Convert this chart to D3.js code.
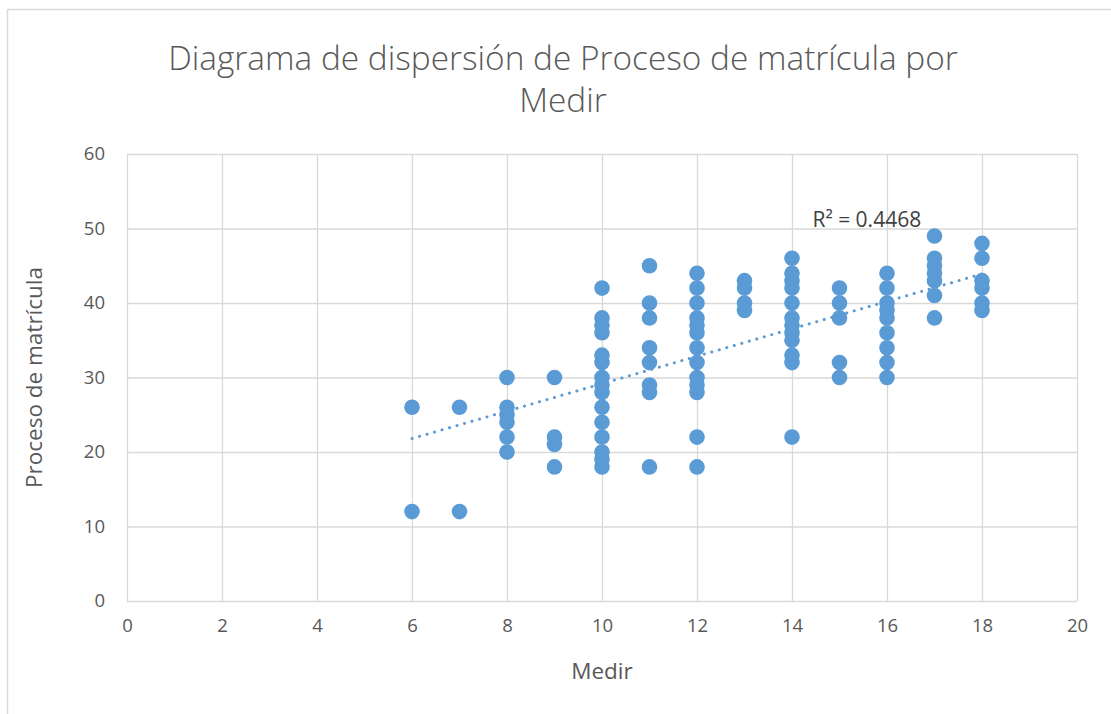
<!DOCTYPE html>
<html>
<head>
<meta charset="utf-8">
<script src="https://cdn.jsdelivr.net/npm/d3@7"></script>
<style>
  body { margin: 0; background: #fff; }
  svg { display: block; font-family: "Open Sans", sans-serif; }
  .axis text { fill: #595959; font-size: 18.5px; font-family: "Open Sans", sans-serif; }
  .axis line, .axis path { stroke: #d9d9d9; stroke-width: 1.3; }
</style>
</head>
<body>
<svg width="1111" height="714"></svg>
<script>
// Medir (x) -> Proceso de matrícula (y), one list of y values per x column
const medirValues = [6, 7, 8, 9, 10, 11, 12, 13, 14, 15, 16, 17, 18];
const procesoValues = [
  [26, 12],
  [26, 12],
  [30, 26, 25, 24, 22, 20],
  [30, 22, 21, 18],
  [42, 38, 37, 36, 33, 32, 30, 29, 28, 26, 24, 22, 20, 19, 18],
  [45, 40, 38, 34, 32, 29, 28, 18],
  [44, 42, 40, 38, 37, 36, 34, 32, 30, 29, 28, 22, 18],
  [43, 42, 40, 39],
  [46, 44, 43, 42, 40, 38, 37, 36, 35, 33, 32, 22],
  [42, 40, 38, 32, 30],
  [44, 42, 40, 39, 38, 36, 34, 32, 30],
  [49, 46, 45, 44, 43, 41, 38],
  [48, 46, 43, 42, 40, 39]
];
const xTicks = [0, 2, 4, 6, 8, 10, 12, 14, 16, 18, 20];
const yTicks = [0, 10, 20, 30, 40, 50, 60];
// linear trendline as Excel drew it (endpoints)
const trendX = [6, 18];
const trendY = [21.8, 43.9];
const rSquaredLabel = "R² = 0.4468";

const points = medirValues.flatMap((m, i) => procesoValues[i].map(p => ({x: m, y: p})));

let svg = d3.select("svg");
const margin = {left: 127, top: 154, right: 34, bottom: 113};
const width = 1111 - margin.left - margin.right,
      height = 714 - margin.top - margin.bottom;

// outer chart border
svg.append("rect")
  .attr("x", 7.5).attr("y", 9.5)
  .attr("width", 1120).attr("height", 720)
  .attr("fill", "none").attr("stroke", "#d9d9d9").attr("stroke-width", 1.5);

let x = d3.scaleLinear().domain([0, 20]).range([0, width]);
let y = d3.scaleLinear().domain([0, 60]).range([height, 0]);

let g = svg.append("g").attr("transform", `translate(${margin.left},${margin.top})`);

g.append("g")
  .attr("class", "axis axis--x")
  .attr("transform", `translate(0,${height})`)
  .call(d3.axisBottom(x).tickValues(xTicks).tickSize(-height).tickPadding(18))
  .call(s => s.select(".domain").remove());

g.append("g")
  .attr("class", "axis axis--y")
  .call(d3.axisLeft(y).tickValues(yTicks).tickSize(-width).tickPadding(22))
  .call(s => s.select(".domain").remove());

g.selectAll(".dot")
  .data(points)
  .enter().append("circle")
  .attr("class", "dot")
  .attr("cx", d => x(d.x))
  .attr("cy", d => y(d.y))
  .attr("r", 7.8)
  .attr("fill", "#5b9bd5");

g.append("line")
  .attr("x1", x(trendX[0])).attr("y1", y(trendY[0]))
  .attr("x2", x(trendX[1])).attr("y2", y(trendY[1]))
  .attr("stroke", "#5b9bd5")
  .attr("stroke-width", 3)
  .attr("stroke-linecap", "round")
  .attr("stroke-dasharray", "0.1 7.7");

g.append("text")
  .attr("x", x(14.43)).attr("y", y(50.2))
  .attr("fill", "#404040")
  .attr("font-size", 21)
  .text(rSquaredLabel);

// titles
svg.append("text")
  .attr("x", 563).attr("y", 70)
  .attr("text-anchor", "middle")
  .attr("fill", "#595959")
  .attr("font-size", 33.4)
  .attr("font-weight", 300)
  .text("Diagrama de dispersión de Proceso de matrícula por");
svg.append("text")
  .attr("x", 563).attr("y", 112)
  .attr("text-anchor", "middle")
  .attr("fill", "#595959")
  .attr("font-size", 33.4)
  .attr("font-weight", 300)
  .text("Medir");

svg.append("text")
  .attr("x", margin.left + width / 2).attr("y", 679)
  .attr("text-anchor", "middle")
  .attr("fill", "#595959")
  .attr("font-size", 22.5)
  .text("Medir");

svg.append("text")
  .attr("transform", `translate(42,${margin.top + height / 2}) rotate(-90)`)
  .attr("text-anchor", "middle")
  .attr("fill", "#595959")
  .attr("font-size", 22.5)
  .text("Proceso de matrícula");
</script>
</body>
</html>
